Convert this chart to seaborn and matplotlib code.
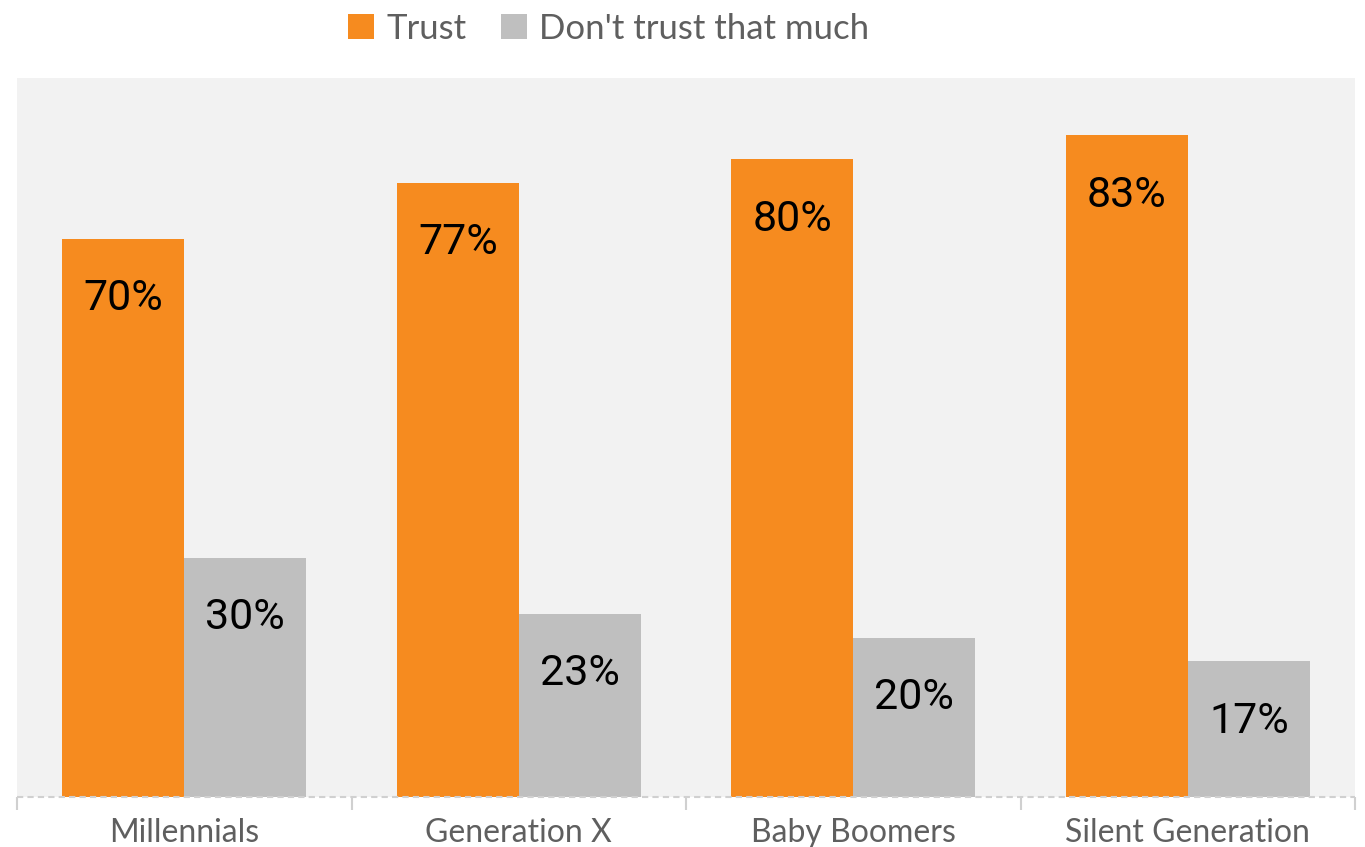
import matplotlib
matplotlib.use("Agg")
import matplotlib.pyplot as plt
import seaborn as sns
import pandas as pd
from matplotlib.patches import Patch

categories = ["Millennials", "Generation X", "Baby Boomers", "Silent Generation"]
trust = [70, 77, 80, 83]
dont_trust = [30, 23, 20, 17]
series_names = ["Trust", "Don't trust that much"]
colors = ["#F68B1F", "#BFBFBF"]

df = pd.DataFrame({
    "category": categories * 2,
    "series": [series_names[0]] * len(categories) + [series_names[1]] * len(categories),
    "value": trust + dont_trust,
})

sns.set_theme(style="white")
plt.rcParams["font.family"] = ["Lato", "DejaVu Sans"]

fig = plt.figure(figsize=(13.65, 8.47), dpi=100)
ax = fig.add_axes([0.0125, 0.059, 0.9802, 0.849])
ax.set_facecolor("#F2F2F2")

sns.barplot(data=df, x="category", y="value", hue="series", order=categories,
            hue_order=series_names, palette=colors, saturation=1, width=0.73,
            ax=ax, legend=False, linewidth=0, edgecolor="none")

for cont in ax.containers:
    for bar in cont:
        h = bar.get_height()
        ax.text(bar.get_x() + bar.get_width() / 2, h - 7.5, f"{h:.0f}%",
                ha="center", va="center", fontsize=31, color="black",
                family=["Roboto", "DejaVu Sans"])

ax.set_ylim(0, 90.2)
ax.set_xlim(-0.5, len(categories) - 0.5)
ax.set_xlabel("")
ax.set_ylabel("")
ax.set_yticks([])
for s in ax.spines.values():
    s.set_visible(False)

ax.axhline(0, color="#D0D0D0", lw=1.5, ls=(0, (3, 2)), zorder=5, clip_on=False)
ax.set_xticks([i - 0.5 for i in range(len(categories) + 1)], minor=True)
ax.tick_params(axis="x", which="minor", direction="out", length=9, width=1.5, color="#D0D0D0", bottom=True)
ax.tick_params(axis="x", which="major", length=0, pad=15, labelsize=23, labelcolor="#5f5f5f")

handles = [Patch(facecolor=c, edgecolor="none") for c in colors]
leg = fig.legend(handles, series_names, loc="upper center", bbox_to_anchor=(0.446, 1.022), ncol=2,
                 frameon=False, fontsize=25, labelcolor="#5f5f5f", handlelength=0.75, handleheight=0.75,
                 handletextpad=0.35, columnspacing=1.0)

fig.savefig("out.png", dpi=100, facecolor="white")
